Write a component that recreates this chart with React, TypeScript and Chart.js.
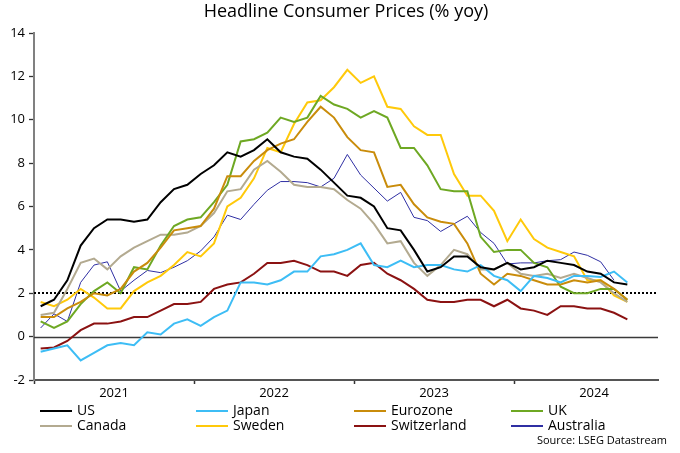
import React, { useEffect, useRef } from "react";
import { Chart, registerables } from "chart.js";

Chart.register(...registerables);

// Monthly data, Jan 2021 – Sep 2024 (% yoy)
const yearLabels = ["2021", "2022", "2023", "2024"];
const yTicks = [-2, 0, 2, 4, 6, 8, 10, 12, 14];

const us = [1.4, 1.7, 2.6, 4.2, 5.0, 5.4, 5.4, 5.3, 5.4, 6.2, 6.8, 7.0, 7.5, 7.9, 8.5, 8.3, 8.6, 9.1, 8.5, 8.3, 8.2, 7.7, 7.1, 6.5, 6.4, 6.0, 5.0, 4.9, 4.0, 3.0, 3.2, 3.7, 3.7, 3.2, 3.1, 3.4, 3.1, 3.2, 3.5, 3.4, 3.3, 3.0, 2.9, 2.5, 2.4];
const japan = [-0.7, -0.55, -0.4, -1.1, -0.75, -0.4, -0.3, -0.4, 0.2, 0.1, 0.6, 0.8, 0.5, 0.9, 1.2, 2.5, 2.5, 2.4, 2.6, 3.0, 3.0, 3.7, 3.8, 4.0, 4.3, 3.3, 3.2, 3.5, 3.2, 3.3, 3.3, 3.1, 3.0, 3.3, 2.8, 2.6, 2.1, 2.8, 2.7, 2.5, 2.8, 2.8, 2.75, 3.0, 2.5];
const eurozone = [0.9, 0.9, 1.3, 1.6, 2.0, 1.9, 2.2, 3.0, 3.4, 4.1, 4.9, 5.0, 5.1, 5.9, 7.4, 7.4, 8.1, 8.6, 8.9, 9.1, 9.9, 10.6, 10.1, 9.2, 8.6, 8.5, 6.9, 7.0, 6.1, 5.5, 5.3, 5.2, 4.3, 2.9, 2.4, 2.9, 2.8, 2.6, 2.4, 2.4, 2.6, 2.5, 2.6, 2.2, 1.7];
const uk = [0.7, 0.4, 0.7, 1.5, 2.1, 2.5, 2.0, 3.2, 3.1, 4.2, 5.1, 5.4, 5.5, 6.2, 7.0, 9.0, 9.1, 9.4, 10.1, 9.9, 10.1, 11.1, 10.7, 10.5, 10.1, 10.4, 10.1, 8.7, 8.7, 7.9, 6.8, 6.7, 6.7, 4.6, 3.9, 4.0, 4.0, 3.4, 3.2, 2.3, 2.0, 2.0, 2.2, 2.2, 1.7];
const canada = [1.0, 1.1, 2.2, 3.4, 3.6, 3.1, 3.7, 4.1, 4.4, 4.7, 4.7, 4.8, 5.1, 5.7, 6.7, 6.8, 7.7, 8.1, 7.6, 7.0, 6.9, 6.9, 6.8, 6.3, 5.9, 5.2, 4.3, 4.4, 3.4, 2.8, 3.3, 4.0, 3.8, 3.1, 3.1, 3.4, 2.9, 2.8, 2.9, 2.7, 2.9, 2.7, 2.5, 2.0, 1.6];
const sweden = [1.6, 1.4, 1.7, 2.2, 1.8, 1.3, 1.3, 2.1, 2.5, 2.8, 3.3, 3.9, 3.7, 4.3, 6.0, 6.4, 7.3, 8.7, 8.5, 9.8, 10.8, 10.9, 11.5, 12.3, 11.7, 12.0, 10.6, 10.5, 9.7, 9.3, 9.3, 7.5, 6.5, 6.5, 5.8, 4.4, 5.4, 4.5, 4.1, 3.9, 3.7, 2.6, 2.6, 1.9, 1.6];
const switzerland = [-0.55, -0.5, -0.2, 0.3, 0.6, 0.6, 0.7, 0.9, 0.9, 1.2, 1.5, 1.5, 1.6, 2.2, 2.4, 2.5, 2.9, 3.4, 3.4, 3.5, 3.3, 3.0, 3.0, 2.8, 3.3, 3.4, 2.9, 2.6, 2.2, 1.7, 1.6, 1.6, 1.7, 1.7, 1.4, 1.7, 1.3, 1.2, 1.0, 1.4, 1.4, 1.3, 1.3, 1.1, 0.8];
const australia = [0.4, 1.05, 0.7, 2.5, 3.3, 3.45, 2.1, 2.6, 3.05, 2.95, 3.2, 3.5, 3.95, 4.6, 5.6, 5.4, 6.1, 6.75, 7.15, 7.15, 7.1, 6.9, 7.3, 8.4, 7.45, 6.85, 6.25, 6.65, 5.5, 5.35, 4.85, 5.2, 5.55, 4.8, 4.3, 3.35, 3.4, 3.4, 3.5, 3.55, 3.9, 3.75, 3.45, 2.6];

const seriesNames = ["US", "Japan", "Eurozone", "UK", "Canada", "Sweden", "Switzerland", "Australia"];
const seriesValues = [us, japan, eurozone, uk, canada, sweden, switzerland, australia];
const seriesColors = ["#000000", "#3dbdf5", "#c98c0b", "#6ea823", "#b3aa90", "#ffc90a", "#8b1212", "#2f2fa3"];
const seriesWidths = [2, 2, 2, 2, 2, 2, 2, 1];

const FONT = "'Open Sans', 'Noto Sans', sans-serif";

export default function App() {
  const ref = useRef<HTMLCanvasElement | null>(null);

  useEffect(() => {
    if (!ref.current) return;
    const refLines = {
      id: "refLines",
      beforeDatasetsDraw(chart: any) {
        const { ctx, chartArea, scales } = chart;
        const y = scales.y;
        ctx.save();
        const y0 = Math.round(y.getPixelForValue(0)) + 0.5;
        ctx.strokeStyle = "#3a3a3a";
        ctx.lineWidth = 1.3;
        ctx.beginPath();
        ctx.moveTo(chartArea.left, y0);
        ctx.lineTo(chartArea.right, y0);
        ctx.stroke();
        const y2 = Math.round(y.getPixelForValue(2));
        ctx.strokeStyle = "#000";
        ctx.lineWidth = 2;
        ctx.setLineDash([2, 2]);
        ctx.beginPath();
        ctx.moveTo(chartArea.left, y2);
        ctx.lineTo(chartArea.right, y2);
        ctx.stroke();
        ctx.restore();
      },
    };

    const chart = new Chart(ref.current, {
      type: "line",
      data: {
        datasets: seriesNames.map((name, k) => ({
          label: name,
          data: seriesValues[k].map((v, i) => ({ x: i + 0.5, y: v })),
          borderColor: seriesColors[k],
          backgroundColor: seriesColors[k],
          borderWidth: seriesWidths[k],
          pointRadius: 0,
          tension: 0,
          fill: false,
        })),
      },
      options: {
        responsive: false,
        animation: false,
        events: [],
        layout: { padding: { left: 0, right: 22, top: 33, bottom: 53 } },
        plugins: {
          legend: { display: false },
          title: { display: false },
          tooltip: { enabled: false },
        },
        scales: {
          x: {
            type: "linear",
            min: 0,
            max: 46.8,
            afterBuildTicks: (s: any) => {
              s.ticks = [0, 6, 12, 18, 24, 30, 36, 42].map((v) => ({ value: v }));
            },
            afterFit: (s: any) => {
              s.height = 20;
            },
            ticks: {
              autoSkip: false,
              maxRotation: 0,
              padding: 1,
              color: "#000",
              font: { family: FONT, size: 13 },
              callback: (v: any) => (v % 12 === 6 ? yearLabels[(v - 6) / 12] : ""),
            },
            grid: {
              drawOnChartArea: false,
              tickLength: 4,
              tickWidth: 1.5,
              tickColor: (c: any) => (c.tick && c.tick.value % 12 === 0 ? "#333" : "rgba(0,0,0,0)"),
            },
            border: { color: "#555", width: 2 },
          },
          y: {
            min: -2,
            max: 14,
            afterBuildTicks: (s: any) => {
              s.ticks = yTicks.map((v) => ({ value: v }));
            },
            afterFit: (s: any) => {
              s.width = 34;
            },
            ticks: {
              padding: 4,
              color: "#000",
              font: { family: FONT, size: 13 },
            },
            grid: {
              drawOnChartArea: false,
              tickLength: 5,
              tickWidth: 1.3,
              tickColor: "#333",
            },
            border: { color: "#808080", width: 2 },
          },
        },
      },
      plugins: [refLines],
    } as any);
    return () => chart.destroy();
  }, []);

  const colX = [40, 196, 354, 511];
  const rowY = [403, 418];

  return (
    <div style={{ position: "fixed", left: 0, top: 0, width: 680, height: 453, background: "#fff", fontFamily: FONT }}>
      <canvas ref={ref} width={680} height={453} style={{ position: "absolute", left: 0, top: 0 }} />
      <div
        style={{
          position: "absolute",
          left: 34,
          width: 624,
          top: 1,
          textAlign: "center",
          fontSize: 18,
          lineHeight: "18px",
          color: "#000",
          whiteSpace: "nowrap",
        }}
      >
        Headline Consumer Prices (% yoy)
      </div>
      {seriesNames.map((name, k) => {
        const col = k % 4;
        const row = Math.floor(k / 4);
        const x = colX[col];
        const y = rowY[row];
        return (
          <React.Fragment key={name}>
            <div
              style={{
                position: "absolute",
                left: x,
                top: y + 7,
                width: 32,
                height: 2,
                background: seriesColors[k],
              }}
            />
            <div
              style={{
                position: "absolute",
                left: x + 37,
                top: y,
                fontSize: 14,
                lineHeight: "14px",
                color: "#000",
                whiteSpace: "nowrap",
              }}
            >
              {name}
            </div>
          </React.Fragment>
        );
      })}
      <div
        style={{
          position: "absolute",
          right: 13,
          top: 434,
          fontSize: 11,
          lineHeight: "11px",
          color: "#000",
          whiteSpace: "nowrap",
        }}
      >
        Source: LSEG Datastream
      </div>
    </div>
  );
}
